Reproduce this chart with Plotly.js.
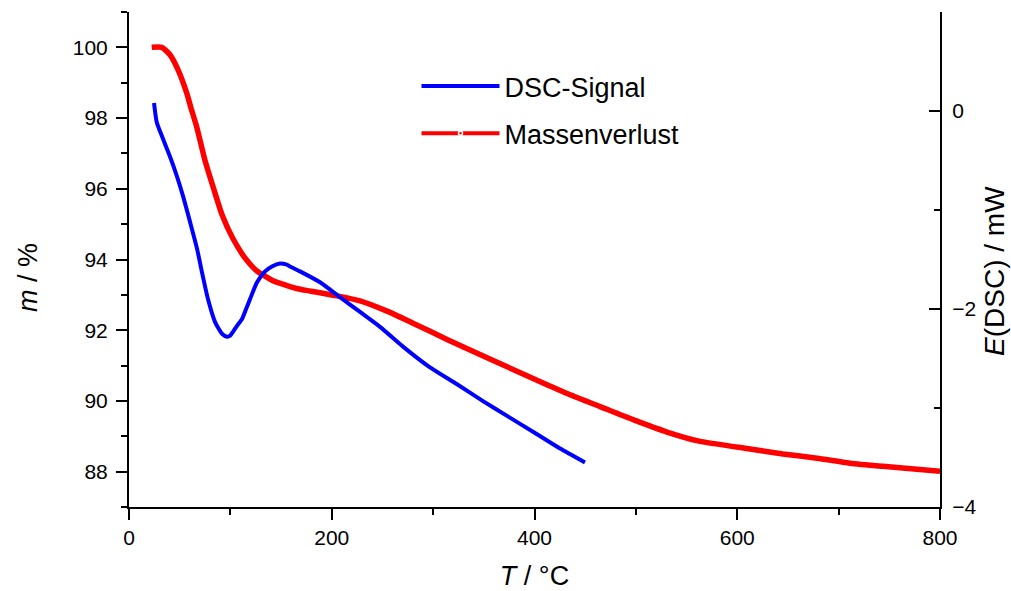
<!DOCTYPE html>
<html>
<head>
<meta charset="utf-8">
<script src="https://cdn.plot.ly/plotly-3.0.1.min.js"></script>
<style>html,body{margin:0;padding:0;background:#fff;}#chart{width:1011px;height:591px;}</style>
</head>
<body>
<div id="chart"></div>
<script>
// DSC signal (right axis, mW) vs temperature
const dscT = [24.7, 27.3, 33.5, 40.4, 47.3, 53.3, 60.2, 67.1, 72.0, 77.9, 84.8, 88.5, 91.7, 96.7, 99.8, 102.6, 106.5, 111.5, 115.5, 119.4, 126.3, 134.2, 141.0, 149.0, 155.0, 158.8, 168.7, 188.4, 208.1, 227.9, 247.6, 270.3, 296.9, 323.6, 349.2, 372.9, 398.5, 425.2, 449.8];
const dscE = [0.08, -0.11, -0.28, -0.46, -0.66, -0.86, -1.12, -1.39, -1.63, -1.90, -2.13, -2.20, -2.25, -2.28, -2.27, -2.23, -2.17, -2.10, -2.00, -1.90, -1.73, -1.62, -1.57, -1.54, -1.55, -1.57, -1.62, -1.73, -1.88, -2.03, -2.18, -2.38, -2.59, -2.76, -2.93, -3.08, -3.24, -3.41, -3.55];

// Mass loss (left axis, %) vs temperature
const massT = [22.4, 32.3, 40.4, 48.3, 56.9, 61.0, 66.8, 75.0, 83.0, 92.0, 102.0, 114.0, 126.0, 133.0, 142.0, 150.0, 165.0, 180.0, 205.2, 227.9, 254.5, 280.1, 313.7, 346.2, 378.8, 412.3, 432.1, 464.7, 497.2, 530.7, 561.3, 612.6, 645.1, 678.7, 711.2, 743.8, 777.3, 800.0];
const massM = [100.0, 100.0, 99.79, 99.37, 98.71, 98.30, 97.75, 96.80, 96.05, 95.25, 94.62, 94.06, 93.68, 93.55, 93.40, 93.32, 93.18, 93.10, 92.97, 92.83, 92.54, 92.20, 91.74, 91.31, 90.89, 90.46, 90.21, 89.84, 89.47, 89.12, 88.87, 88.64, 88.50, 88.38, 88.24, 88.15, 88.07, 88.01];

const seriesNames = ["DSC-Signal", "Massenverlust"];

const FONT = "Liberation Sans, Arial, sans-serif";

const traces = [
  {
    x: dscT, y: dscE, yaxis: "y2", name: seriesNames[0],
    mode: "lines", line: {color: "#0000ff", width: 4, shape: "spline", smoothing: 0.6},
    legendgroup: "a"
  },
  {
    x: massT, y: massM, yaxis: "y", name: seriesNames[1],
    mode: "lines", line: {color: "#ff0000", width: 5.5, shape: "spline", smoothing: 0.6},
    showlegend: false, legendgroup: "b"
  },
  {
    x: [null], y: [null], yaxis: "y", name: seriesNames[1],
    mode: "lines+markers", line: {color: "#ff0000", width: 4},
    marker: {color: "#ff0000", size: 4, line: {color: "#ffffff", width: 1.5}},
    legendgroup: "b"
  }
];

const layout = {
  width: 1011, height: 591,
  margin: {l: 129, r: 71, t: 12, b: 84},
  paper_bgcolor: "#fff", plot_bgcolor: "#fff",
  font: {family: FONT, color: "#000", size: 21},
  showlegend: true,
  legend: {
    x: 0.3545, y: 0.899, xanchor: "left", yanchor: "top",
    font: {family: FONT, size: 27, color: "#000"},
    itemwidth: 78, tracegroupgap: 9, traceorder: "grouped",
    bgcolor: "rgba(0,0,0,0)", borderwidth: 0
  },
  xaxis: {
    range: [0, 800], dtick: 200, tick0: 0,
    showline: true, linecolor: "#000", linewidth: 2,
    ticks: "outside", ticklen: 11, tickwidth: 2, tickcolor: "#000",
    minor: {dtick: 100, ticklen: 6, tickwidth: 2, tickcolor: "#000", ticks: "outside", showgrid: false},
    showgrid: false, zeroline: false,
    tickfont: {family: FONT, size: 21},
    title: {text: "<i>T</i> / °C", font: {family: FONT, size: 27}, standoff: 20}
  },
  yaxis: {
    range: [87, 101], dtick: 2, tick0: 88,
    showline: true, linecolor: "#000", linewidth: 2,
    ticks: "outside", ticklen: 11, tickwidth: 2, tickcolor: "#000",
    minor: {dtick: 1, tick0: 87, ticklen: 6, tickwidth: 2, tickcolor: "#000", ticks: "outside", showgrid: false},
    showgrid: false, zeroline: false,
    ticklabelstandoff: 4,
    tickfont: {family: FONT, size: 21}
  },
  yaxis2: {
    range: [-4, 1], dtick: 2, tick0: 0,
    overlaying: "y", side: "right",
    showline: true, linecolor: "#000", linewidth: 2,
    ticks: "inside", ticklen: 11, tickwidth: 2, tickcolor: "#000",
    minor: {dtick: 1, ticklen: 6, tickwidth: 2, tickcolor: "#000", ticks: "inside", showgrid: false},
    showgrid: false, zeroline: false,
    ticklabelstandoff: 6,
    tickfont: {family: FONT, size: 21}
  },
  annotations: [
    {text: "<i>m</i> / %", xref: "paper", yref: "paper", x: -0.1245, y: 0.4626,
     xanchor: "center", yanchor: "middle", textangle: -90, showarrow: false,
     font: {family: FONT, size: 27, color: "#000"}},
    {text: "<i>E</i>(DSC) / mW", xref: "paper", yref: "paper", x: 1.0678, y: 0.4768,
     xanchor: "center", yanchor: "middle", textangle: -90, showarrow: false,
     font: {family: FONT, size: 28, color: "#000"}}
  ]
};

Plotly.newPlot("chart", traces, layout, {displayModeBar: false, staticPlot: true});
</script>
</body>
</html>
